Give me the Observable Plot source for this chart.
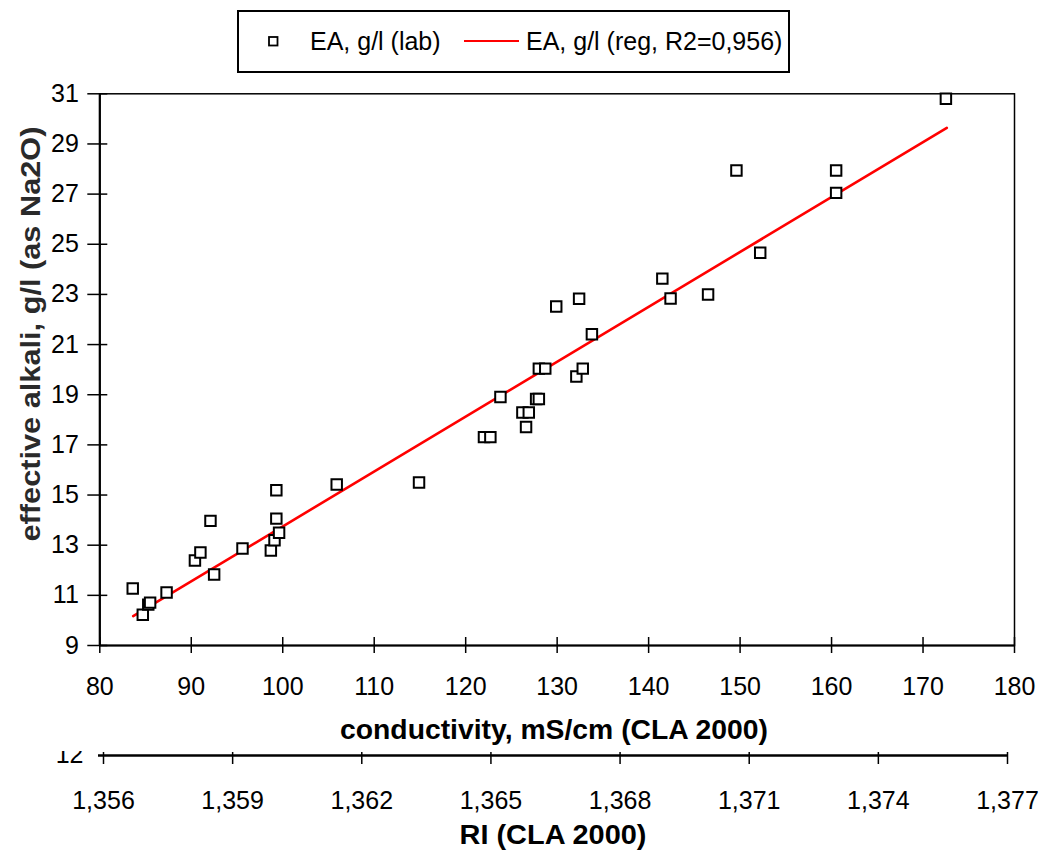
<!DOCTYPE html>
<html>
<head>
<meta charset="utf-8">
<script src="https://cdn.jsdelivr.net/npm/d3@7"></script>
<script src="https://cdn.jsdelivr.net/npm/@observablehq/plot@0.6"></script>
<style>
  body { margin: 0; background: #fff; font-family: "Liberation Sans", Arial, sans-serif; }
  #wrap { position: relative; width: 1048px; height: 856px; overflow: hidden; background: #fff; }
  #main { position: absolute; left: 0; top: 0; }
  #ri { position: absolute; left: 0; top: 751px; width: 1048px; height: 105px; overflow: hidden; }
  #legend { position: absolute; left: 237px; top: 10px; width: 553px; height: 63px; border: 2px solid #000; box-sizing: border-box; background: #fff; }
  #titles { position: absolute; left: 0; top: 0; pointer-events: none; }
</style>
</head>
<body>
<div id="wrap">
  <div id="main"></div>
  <div id="ri"></div>
  <div id="legend"></div>
</div>
<script>
// ---- data ----
const conductivity = [83.6, 84.7, 85.3, 85.5, 87.3, 90.4, 91.0, 92.1, 92.5, 95.6,
  98.7, 99.1, 99.3, 99.3, 99.6, 105.9, 114.9, 122.0, 122.7, 123.8,
  126.2, 126.9, 126.6, 127.7, 128.0, 128.0, 128.7, 129.9, 132.4, 132.1,
  132.8, 133.8, 141.5, 142.4, 146.5, 149.6, 152.2, 160.5, 160.5, 172.5];
const effectiveAlkali = [11.27, 10.23, 10.63, 10.71, 11.11, 12.39, 12.71, 13.97, 11.83, 12.87,
  12.79, 13.2, 14.06, 15.19, 13.5, 15.42, 15.5, 17.31, 17.31, 18.91,
  18.29, 18.29, 17.71, 18.83, 18.83, 20.04, 20.04, 22.52, 22.83, 19.73,
  20.04, 21.41, 23.63, 22.84, 23.0, 27.94, 24.66, 27.94, 27.05, 30.8];
const regConductivity = [83.65, 172.6];
const regAlkali = [10.17, 29.64];
const xTicks = [80, 90, 100, 110, 120, 130, 140, 150, 160, 170, 180];
const yTicks = [9, 11, 13, 15, 17, 19, 21, 23, 25, 27, 29, 31];
const riTicks = [1.356, 1.359, 1.362, 1.365, 1.368, 1.371, 1.374, 1.377];
const riTickLabels = ["1,356", "1,359", "1,362", "1,365", "1,368", "1,371", "1,374", "1,377"];
const strayLabel = ["12"];
const legendLabels = ["EA, g/l (lab)", "EA, g/l (reg, R2=0,956)"];
const xTitle = "conductivity, mS/cm (CLA 2000)";
const yTitle = "effective alkali, g/l (as Na2O)";
const riTitle = "RI (CLA 2000)";

const FONT = "Liberation Sans, Arial, sans-serif";
const points = conductivity.map((c, i) => ({c, ea: effectiveAlkali[i]}));
const reg = regConductivity.map((c, i) => ({c, ea: regAlkali[i]}));

// ---- main chart ----
const main = Plot.plot({
  width: 1048,
  height: 700,
  marginLeft: 99.3,
  marginRight: 34,
  marginTop: 93.3,
  marginBottom: 55,
  style: {fontFamily: FONT, fontSize: "25px", color: "#000", background: "transparent", overflow: "visible"},
  x: {domain: [80, 180]},
  y: {domain: [9, 31]},
  marks: [
    Plot.frame({stroke: "#000", strokeWidth: 1.5}),
    Plot.ruleX([80], {stroke: "#000", strokeWidth: 2.2}),
    Plot.ruleY([9], {stroke: "#000", strokeWidth: 2.2}),
    Plot.ruleX(xTicks, {x: d => d, y1: () => 9, y2: () => 9, insetTop: -8, insetBottom: -8, stroke: "#000", strokeWidth: 1.5}),
    Plot.ruleY(yTicks, {y: d => d, x1: () => 80, x2: () => 80, insetLeft: -12, insetRight: -8, stroke: "#000", strokeWidth: 1.5}),
    Plot.axisX(xTicks, {tickSize: 0, tickPadding: 32, label: null}),
    Plot.axisY(yTicks, {tickSize: 0, tickPadding: 21, label: null}),
    Plot.line(reg, {x: "c", y: "ea", stroke: "#ff0000", strokeWidth: 2.6}),
    Plot.dot(points, {x: "c", y: "ea", symbol: "square", r: 5.9, stroke: "#000", strokeWidth: 2, fill: "#fff"})
  ]
});
document.getElementById("main").appendChild(main);

// ---- secondary RI axis ----
const ri = Plot.plot({
  width: 1048,
  height: 105,
  marginLeft: 103,
  marginRight: 41,
  marginTop: 4,
  marginBottom: 1,
  style: {fontFamily: FONT, fontSize: "25px", color: "#000", background: "transparent"},
  x: {domain: [1.356, 1.377], range: [103, 1007], axis: null},
  y: {domain: [0, 1], range: [4, 104], axis: null},
  marks: [
    Plot.ruleY([0], {y: d => d, x1: () => 1.356, x2: () => 1.377, insetLeft: -5, stroke: "#000", strokeWidth: 2.5}),
    Plot.ruleX(riTicks, {x: d => d, y1: () => 0, y2: () => 0, insetTop: -3, insetBottom: -9, stroke: "#000", strokeWidth: 1.5}),
    Plot.text(riTicks, {x: d => d, y: () => 0, text: (d, i) => riTickLabels[i], dy: 45, fontSize: 25, fill: "#000"}),
    Plot.text(strayLabel, {frameAnchor: "top-left", text: d => d, dx: -20, dy: -10, textAnchor: "end", lineAnchor: "top", fontSize: 25, fill: "#000"})
  ]
});
document.getElementById("ri").appendChild(ri);

// ---- titles (stretched like the original) ----
const ns = "http://www.w3.org/2000/svg";
const tsvg = document.createElementNS(ns, "svg");
tsvg.setAttribute("id", "titles");
tsvg.setAttribute("width", 1048);
tsvg.setAttribute("height", 856);
function addText(str, attrs) {
  const t = document.createElementNS(ns, "text");
  for (const k in attrs) t.setAttribute(k, attrs[k]);
  t.textContent = str;
  tsvg.appendChild(t);
  return t;
}
addText(xTitle, {x: 554, y: 730, "text-anchor": "middle", "dominant-baseline": "central", "font-family": FONT, "font-size": 27, "font-weight": "bold", fill: "#000", textLength: 428, lengthAdjust: "spacingAndGlyphs"});
addText(riTitle, {x: 553, y: 835, "text-anchor": "middle", "dominant-baseline": "central", "font-family": FONT, "font-size": 27, "font-weight": "bold", fill: "#000", textLength: 187, lengthAdjust: "spacingAndGlyphs"});
addText(yTitle, {x: 0, y: 0, transform: "translate(31,334) rotate(-90)", "text-anchor": "middle", "dominant-baseline": "central", "font-family": FONT, "font-size": 27, "font-weight": "bold", fill: "#2a2a2a", textLength: 415, lengthAdjust: "spacingAndGlyphs"});
document.getElementById("wrap").appendChild(tsvg);

// ---- legend ----
const lsvg = d3.select("#legend").append("svg").attr("width", 549).attr("height", 59)
  .style("font-family", FONT).style("font-size", "25px");
lsvg.append("rect").attr("x", 30).attr("y", 25).attr("width", 8.5).attr("height", 8.5)
  .attr("fill", "#fff").attr("stroke", "#000").attr("stroke-width", 1.8);
lsvg.append("text").attr("x", 71).attr("y", 29).attr("dominant-baseline", "central").text(legendLabels[0]);
lsvg.append("line").attr("x1", 225).attr("x2", 280).attr("y1", 29).attr("y2", 29)
  .attr("stroke", "#ff0000").attr("stroke-width", 2);
lsvg.append("text").attr("x", 287).attr("y", 29).attr("dominant-baseline", "central").text(legendLabels[1]);
</script>
</body>
</html>
